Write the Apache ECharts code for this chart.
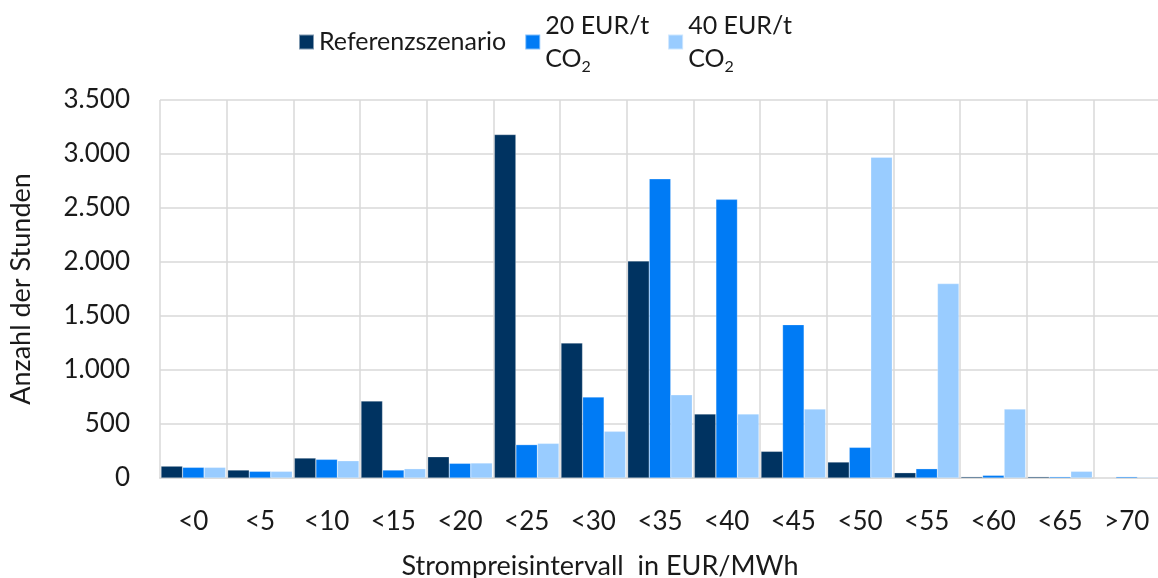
<!DOCTYPE html>
<html>
<head>
<meta charset="utf-8">
<script src="https://cdn.jsdelivr.net/npm/echarts@6/dist/echarts.min.js"></script>
<style>
  html, body { margin: 0; padding: 0; background: #fff; }
  #chart { width: 1158px; height: 578px; }
</style>
</head>
<body>
<div id="chart"></div>
<script>
// Strompreisintervalle
const categories = ['<0', '<5', '<10', '<15', '<20', '<25', '<30', '<35', '<40', '<45', '<50', '<55', '<60', '<65', '>70']
// Anzahl der Stunden je Szenario
const referenz = [110, 74, 185, 713, 197, 3180, 1250, 2010, 593, 247, 148, 49, 12, 12, 0]
const eur20 = [99, 62, 173, 74, 136, 309, 750, 2770, 2580, 1420, 284, 86, 25, 12, 12]
const eur40 = [99, 62, 160, 86, 139, 321, 432, 770, 593, 639, 2970, 1800, 639, 62, 8]
const yTicks = [0, 500, 1000, 1500, 2000, 2500, 3000, 3500]

const seriesNames = ['Referenzszenario', '20 EUR/t CO2', '40 EUR/t CO2']
const colors = ['#003361', '#007bf5', '#99ccff']
const FONT = 'Lato'
const TEXT = '#1a1a1a'

const chart = echarts.init(document.getElementById('chart'), null, { renderer: 'canvas' })

function bar(name, data, color) {
  return {
    name: name,
    type: 'bar',
    data: data,
    barGap: '0%',
    barCategoryGap: '3%',
    itemStyle: { color: color, borderColor: 'rgba(255,255,255,0.5)', borderWidth: 0.5 }
  }
}

const option = {
  animation: false,
  color: colors,
  textStyle: { fontFamily: FONT, color: TEXT },
  legend: {
    left: 293,
    top: 4,
    icon: 'rect',
    itemWidth: 15,
    itemHeight: 15,
    itemGap: 18,
    data: seriesNames,
    textStyle: {
      fontFamily: FONT,
      fontSize: 25,
      color: TEXT,
      lineHeight: 33,
      rich: {
        sub: { fontFamily: FONT, fontSize: 16, verticalAlign: 'bottom', padding: [10, 0, 0, 0], color: TEXT }
      }
    },
    formatter: function (name) {
      if (name === '20 EUR/t CO2') return '20 EUR/t\nCO{sub|2}'
      if (name === '40 EUR/t CO2') return '40 EUR/t\nCO{sub|2}'
      return name
    }
  },
  grid: { left: 160, right: -2, top: 100, bottom: 100, outerBoundsMode: 'none' },
  xAxis: {
    type: 'category',
    data: categories,
    boundaryGap: true,
    name: 'Strompreisintervall  in EUR/MWh',
    nameLocation: 'middle',
    nameGap: 75,
    nameTextStyle: { fontFamily: FONT, fontSize: 27, color: TEXT, padding: [0, 120, 0, 0] },
    axisLine: { lineStyle: { color: '#d9d9d9', width: 2 } },
    axisTick: { show: false },
    axisLabel: { fontFamily: FONT, fontSize: 26, color: TEXT, margin: 31 },
    splitLine: { show: true, lineStyle: { color: '#d9d9d9', width: 1.5 } }
  },
  yAxis: {
    type: 'value',
    min: yTicks[0],
    max: yTicks[yTicks.length - 1],
    interval: 500,
    name: 'Anzahl der Stunden',
    nameLocation: 'middle',
    nameGap: 125,
    nameRotate: 90,
    nameTextStyle: { fontFamily: FONT, fontSize: 27, color: TEXT },
    axisLine: { show: false },
    axisTick: { show: false },
    axisLabel: {
      fontFamily: FONT,
      fontSize: 26,
      color: TEXT,
      margin: 30,
      formatter: function (v) { return String(v).replace(/\B(?=(\d{3})+(?!\d))/g, '.') }
    },
    splitLine: { lineStyle: { color: '#d9d9d9', width: 1.5 } }
  },
  series: [
    bar(seriesNames[0], referenz, colors[0]),
    bar(seriesNames[1], eur20, colors[1]),
    bar(seriesNames[2], eur40, colors[2])
  ]
}

chart.setOption(option)
</script>
</body>
</html>
